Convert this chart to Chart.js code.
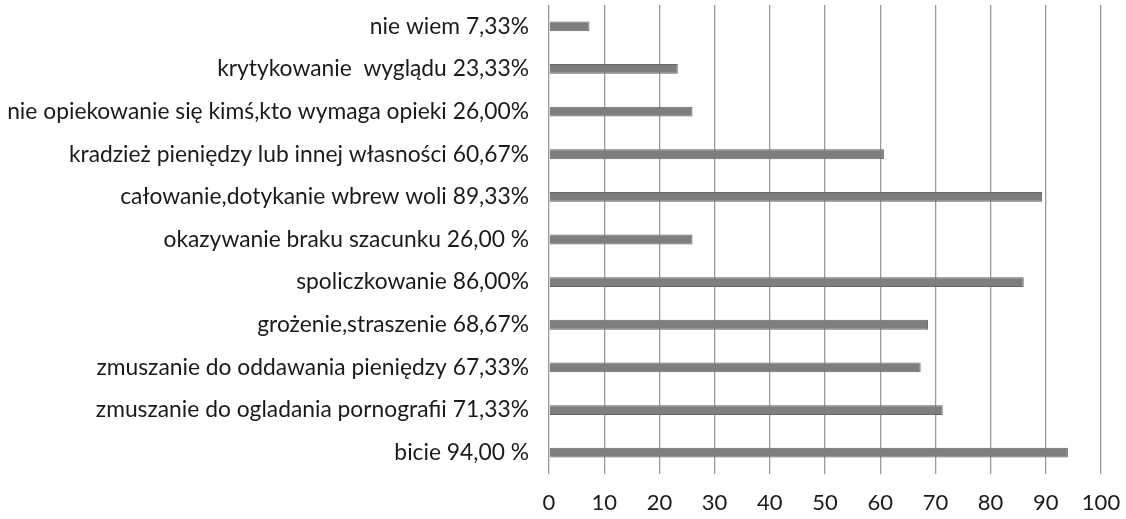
<!DOCTYPE html>
<html>
<head>
<meta charset="utf-8">
<script src="https://cdn.jsdelivr.net/npm/chart.js@4"></script>
<style>
  html, body { margin: 0; padding: 0; background: #fff; }
  #wrap { width: 1126px; height: 519px; position: relative; }
</style>
</head>
<body>
<div id="wrap"><canvas id="grafico"></canvas></div>
<script>
const etykiety = [
    "nie wiem 7,33%",
    "krytykowanie  wyglądu 23,33%",
    "nie opiekowanie się kimś,kto wymaga opieki 26,00%",
    "kradzież pieniędzy lub innej własności 60,67%",
    "całowanie,dotykanie wbrew woli 89,33%",
    "okazywanie braku szacunku 26,00 %",
    "spoliczkowanie 86,00%",
    "grożenie,straszenie 68,67%",
    "zmuszanie do oddawania pieniędzy 67,33%",
    "zmuszanie do ogladania pornografii 71,33%",
    "bicie 94,00 %"
];
const wartosci = [7.33, 23.33, 26.00, 60.67, 89.33, 26.00, 86.00, 68.67, 67.33, 71.33, 94.00];
const osX = { min: 0, max: 100, krok: 10 };

const canvas = document.querySelector('#grafico');
const font = "Lato, 'Noto Sans', sans-serif";

const config = {
    type: "bar",
    data: {
        labels: etykiety,
        datasets: [{
            data: wartosci,
            backgroundColor: "#7e7e7e",
            borderColor: "#666666",
            borderWidth: 1,
            barPercentage: 0.23,
            categoryPercentage: 1
        }]
    },
    options: {
        indexAxis: "y",
        responsive: true,
        maintainAspectRatio: false,
        animation: false,
        layout: { padding: { top: 5, right: 25, left: 0, bottom: 0 } },
        plugins: { legend: { display: false }, tooltip: { enabled: false } },
        scales: {
            x: {
                min: osX.min,
                max: osX.max,
                ticks: { stepSize: osX.krok, color: "#1a1a1a", font: { family: font, size: 22 }, padding: 16 },
                grid: { color: "#9a9a9a", lineWidth: 1.3, drawTicks: false },
                border: { display: false },
                afterFit: (s) => { s.height = 45; s.paddingLeft = 0; s.paddingRight = 0; }
            },
            y: {
                ticks: { color: "#1a1a1a", font: { family: font, size: 22.8 }, padding: 12 },
                grid: { display: false },
                border: { display: false },
                afterFit: (s) => { s.width = 549; s.paddingTop = 0; s.paddingBottom = 0; }
            }
        }
    }
};

const wykres = new Chart(canvas, config);
</script>
</body>
</html>
